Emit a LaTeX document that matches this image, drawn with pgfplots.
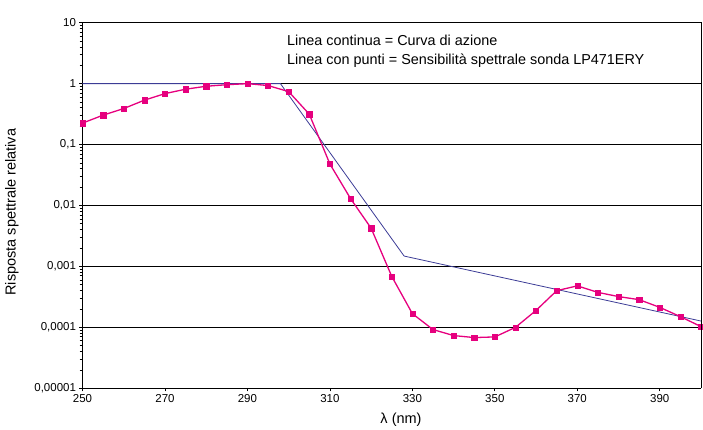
\documentclass[border=0pt]{standalone}
\usepackage{fontspec}
\setmainfont{Liberation Sans}
\usepackage{pgfplots}
\pgfplotsset{compat=1.18}

\definecolor{eryblue}{RGB}{60,60,150}
\definecolor{sondapink}{RGB}{230,0,126}

\begin{document}
\begin{tikzpicture}
\begin{axis}[
    name=ax,
    scale only axis,
    width=618.5pt, height=365.6pt,
    ymode=log,
    xmin=250, xmax=400,
    ymin=1e-5, ymax=10,
    xtick={250,270,...,390},
    ytick={1e-5,1e-4,1e-3,1e-2,1e-1,1,10},
    yticklabels={{0,00001},{0,0001},{0,001},{0,01},{0,1},{1},{10}},
    yticklabel style={font=\fontsize{11.5}{12}\selectfont},
    xticklabel style={font=\fontsize{11.5}{12}\selectfont},
    /pgf/number format/assume math mode=true,
    tick align=outside,
    major tick length=3pt,
    minor tick num=0,
    tick style={black, line width=0.8pt},
    axis line style={black, line width=0.9pt},
    ymajorgrids,
    grid style={black, line width=0.8pt},
    axis x line*=bottom,
    axis y line*=left,
    xlabel={λ (nm)},
    ylabel={Risposta spettrale relativa},
    label style={font=\fontsize{14.5}{16}\selectfont},
    xlabel style={at={(axis description cs:0.515,0)}, anchor=north, yshift=-21pt},
    ylabel style={at={(axis description cs:-0.114,0.482)}, anchor=center},
    clip=false,
]
% curva di azione
\addplot[eryblue, line width=0.8pt] coordinates {
    (250,1) (298,1) (328,0.00148) (400,0.000127)
};
% sensibilita spettrale sonda
\addplot[sondapink, line width=1.3pt, mark=square*, mark size=2.6pt,
         mark options={fill=sondapink, draw=sondapink, line width=0.4pt}] coordinates {
    (250,0.225) (255,0.304) (260,0.39) (265,0.535) (270,0.686)
    (275,0.81) (280,0.906) (285,0.96) (290,1.0) (295,0.93)
    (300,0.74) (305,0.315) (310,0.048) (315,0.013) (320,0.00424)
    (325,0.000686) (330,0.000168) (335,0.000092) (340,0.0000734)
    (345,0.000068) (350,0.0000697) (355,0.0001) (360,0.00019)
    (365,0.0004) (370,0.00048) (375,0.000375) (380,0.00032)
    (385,0.000285) (390,0.000213) (395,0.00015) (400,0.000103)
};
\end{axis}
% top and right border
\draw[black, line width=0.9pt] (ax.south east) -- (ax.north east) -- (ax.north west);
\node[anchor=north west, align=left, inner sep=0pt,
      font=\fontsize{14.4}{19}\selectfont]
  at ([xshift=204.5pt, yshift=-12pt]ax.north west)
  {Linea continua = Curva di azione\\Linea con punti = Sensibilità spettrale sonda LP471ERY};
\pgfresetboundingbox
\path[use as bounding box] ([xshift=-82.5pt, yshift=-41.7pt]ax.south west)
    rectangle ([xshift=2pt, yshift=22.7pt]ax.north east);
\end{tikzpicture}
\end{document}
